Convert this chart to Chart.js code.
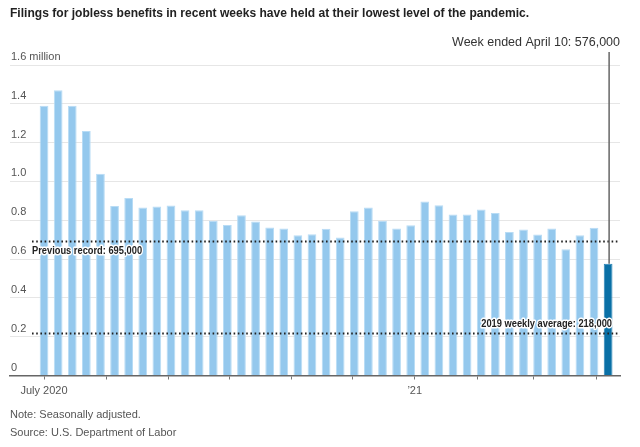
<!DOCTYPE html>
<html>
<head>
<meta charset="utf-8">
<script src="https://cdn.jsdelivr.net/npm/chart.js@4/dist/chart.umd.min.js"></script>
<style>
  html, body { margin: 0; padding: 0; background: #fff; }
  body { width: 640px; height: 447px; position: relative; overflow: hidden;
         font-family: "Liberation Sans", Arial, sans-serif; }
  #wrap { position: absolute; left: 0; top: 0; width: 640px; height: 447px; }
  #title { position: absolute; left: 10px; top: 5px; font-size: 13.5px; font-weight: bold;
           color: #222; white-space: nowrap; transform: scaleX(0.894); transform-origin: 0 0; }
  .note { position: absolute; left: 10px; font-size: 11px; color: #555; white-space: nowrap; }
</style>
</head>
<body>
<div id="wrap"><canvas id="c" width="640" height="447"></canvas></div>
<div id="title">Filings for jobless benefits in recent weeks have held at their lowest level of the pandemic.</div>
<div class="note" style="top:408px">Note: Seasonally adjusted.</div>
<div class="note" style="top:426px">Source: U.S. Department of Labor</div>
<script>
// ---- data ----
const weekEnding = [
  '2020-07-04','2020-07-11','2020-07-18','2020-07-25','2020-08-01','2020-08-08','2020-08-15',
  '2020-08-22','2020-08-29','2020-09-05','2020-09-12','2020-09-19','2020-09-26','2020-10-03',
  '2020-10-10','2020-10-17','2020-10-24','2020-10-31','2020-11-07','2020-11-14','2020-11-21',
  '2020-11-28','2020-12-05','2020-12-12','2020-12-19','2020-12-26','2021-01-02','2021-01-09',
  '2021-01-16','2021-01-23','2021-01-30','2021-02-06','2021-02-13','2021-02-20','2021-02-27',
  '2021-03-06','2021-03-13','2021-03-20','2021-03-27','2021-04-03','2021-04-10'
];
const claimsMillions = [
  1.39, 1.47, 1.39, 1.26, 1.04, 0.874, 0.915, 0.866, 0.871, 0.876, 0.852, 0.852, 0.797, 0.776,
  0.826, 0.794, 0.763, 0.758, 0.723, 0.728, 0.756, 0.711, 0.847, 0.866, 0.797, 0.758, 0.774, 0.897,
  0.877, 0.830, 0.830, 0.855, 0.838, 0.739, 0.752, 0.727, 0.758, 0.650, 0.723, 0.761, 0.576
];
const yTickValues = [0, 0.2, 0.4, 0.6, 0.8, 1.0, 1.2, 1.4, 1.6];
const monthTickDates = ['2020-07-01','2020-08-01','2020-09-01','2020-10-01','2020-11-01',
  '2020-12-01','2021-01-01','2021-02-01','2021-03-01','2021-04-01'];
const monthTickLabels = ['July 2020','','','','','','\u201921','','',''];
const previousRecord = 0.695;
const previousRecordLabel = 'Previous record: 695,000';
const avg2019 = 0.218;
const avg2019Label = '2019 weekly average: 218,000';
const latestLabel = 'Week ended April 10: 576,000';

// ---- helpers ----
const origin = Date.UTC(2020, 6, 1);
function dayNum(s) { const [y, m, d] = s.split('-').map(Number); return (Date.UTC(y, m - 1, d) - origin) / 86400000; }
const monthTickDays = monthTickDates.map(dayNum);
// bars centred on the middle of each week (week ending minus 3 days)
const points = weekEnding.map((w, i) => ({ x: dayNum(w) - 3, y: claimsMillions[i] }));
const lastIdx = claimsMillions.length - 1;

const FONT = '"Liberation Sans", Arial, sans-serif';

const annot = {
  id: 'annot',
  afterDatasetsDraw(chart) {
    const { ctx, chartArea, scales: { x, y } } = chart;
    ctx.save();
    // dotted reference lines
    ctx.strokeStyle = '#222';
    ctx.lineWidth = 1.8;
    ctx.setLineDash([1.6, 2.6]);
    [previousRecord, avg2019].forEach(v => {
      const py = Math.round(y.getPixelForValue(v)) + 0.5;
      ctx.beginPath(); ctx.moveTo(32, py); ctx.lineTo(chartArea.right, py); ctx.stroke();
    });
    ctx.setLineDash([]);
    // labels with white halo, horizontally condensed
    ctx.lineJoin = 'round';
    function halo(t, px, py, align) {
      ctx.save();
      ctx.translate(px, py);
      ctx.scale(0.845, 1);
      ctx.font = 'bold 11px ' + FONT;
      ctx.textBaseline = 'middle';
      ctx.textAlign = align;
      ctx.strokeStyle = '#fff'; ctx.lineWidth = 3; ctx.strokeText(t, 0, 0);
      ctx.fillStyle = '#222'; ctx.fillText(t, 0, 0);
      ctx.restore();
    }
    halo(previousRecordLabel, 32, y.getPixelForValue(previousRecord) + 10, 'left');
    halo(avg2019Label, 612, y.getPixelForValue(avg2019) - 9, 'right');
    // latest week pointer
    const bx = x.getPixelForValue(points[lastIdx].x);
    const by = y.getPixelForValue(claimsMillions[lastIdx]);
    ctx.strokeStyle = '#666'; ctx.lineWidth = 1.5;
    ctx.beginPath(); ctx.moveTo(bx + 1, 52); ctx.lineTo(bx + 1, by); ctx.stroke();
    ctx.font = '12.5px ' + FONT;
    ctx.fillStyle = '#333'; ctx.textAlign = 'right'; ctx.textBaseline = 'middle';
    ctx.fillText(latestLabel, chartArea.right, 43);
    ctx.restore();
  }
};

new Chart(document.getElementById('c'), {
  type: 'bar',
  data: {
    datasets: [{
      data: points,
      backgroundColor: ctx => ctx.dataIndex === lastIdx ? '#0a70a6' : '#94c8ed',
      borderColor: ctx => ctx.dataIndex === lastIdx ? '#2a84b6' : '#b8dcf5',
      borderWidth: 1,
      barPercentage: 0.62,
      categoryPercentage: 1.0
    }]
  },
  options: {
    responsive: false,
    animation: false,
    events: [],
    layout: { padding: { left: 10, right: 20, top: 65, bottom: 45.5 } },
    plugins: { legend: { display: false }, title: { display: false }, tooltip: { enabled: false } },
    scales: {
      x: {
        type: 'linear',
        offset: false,
        min: -16.9, max: 285.9,
        afterBuildTicks: s => { s.ticks = monthTickDays.map(v => ({ value: v })); },
        afterFit: s => { s.height = 26; s.paddingLeft = 0; s.paddingRight = 0; },
        ticks: {
          autoSkip: false, maxRotation: 0, padding: 5,
          color: '#555', font: { family: FONT, size: 11 },
          callback: (v, i) => monthTickLabels[i]
        },
        grid: { offset: false, drawOnChartArea: false, drawTicks: true, tickLength: 4, color: '#777', lineWidth: 1 },
        border: { display: true, color: '#666', width: 1.5 }
      },
      y: {
        min: 0, max: 1.6,
        afterBuildTicks: s => { s.ticks = yTickValues.map(v => ({ value: v })); },
        afterFit: s => { s.width = 0; s.paddingTop = 0; s.paddingBottom = 0; },
        ticks: {
          mirror: true, padding: 1, labelOffset: -8,
          color: '#555', font: { family: FONT, size: 11 },
          callback: v => v === 0 ? '0' : (v === 1.6 ? '1.6 million' : v.toFixed(1))
        },
        grid: { color: '#e6e6e6', lineWidth: 1, drawTicks: false },
        border: { display: false }
      }
    }
  },
  plugins: [annot]
});
</script>
</body>
</html>
